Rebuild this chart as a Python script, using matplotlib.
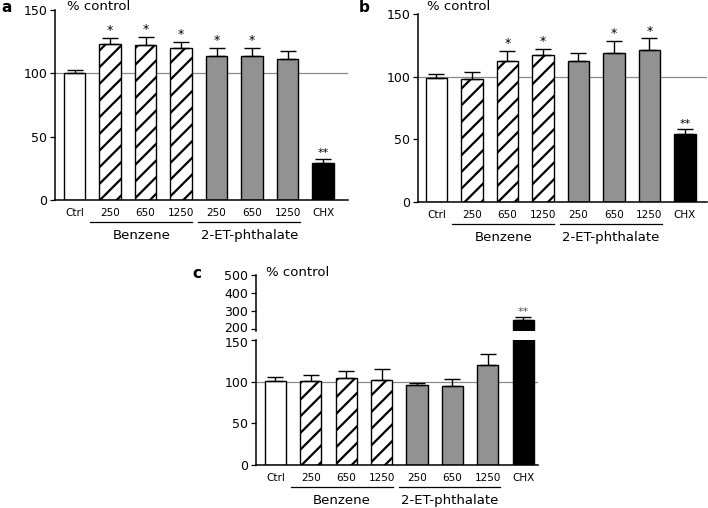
import numpy as np
import matplotlib.pyplot as plt
from matplotlib import transforms

plt.rcParams['font.family'] = ['DejaVu Sans']
plt.rcParams['hatch.linewidth'] = 1.6

# data (% of control)
labels = ['Ctrl', '250', '650', '1250', '250', '650', '1250', 'CHX']
groups = ['Benzene', '2-ET-phthalate']

a_vals = [100, 123, 122, 120, 114, 114, 111, 29.5]
a_errs = [3, 5, 7, 5, 6, 6, 7, 3]
a_stars = ['', '*', '*', '*', '*', '*', '', '**']

b_vals = [99, 98, 112.5, 117, 112.5, 118.5, 121.5, 54]
b_errs = [3, 6, 8, 5, 6, 10, 9, 4]
b_stars = ['', '', '*', '*', '', '*', '*', '**']

c_vals = [100.5, 100.5, 104, 102, 96, 94.5, 119.5, 248]
c_errs = [5, 8, 9, 13, 3, 9, 14, 17]
c_stars = ['', '', '', '', '', '', '', '**']

# bar styles
fills = ['white', 'white', 'white', 'white', '#929292', '#929292', '#929292', 'black']
hatches = ['', '//', '//', '//', '', '', '', '']

W, H = 708, 508
fig = plt.figure(figsize=(W / 100, H / 100), dpi=100)


def px_axes(l, t, r, b):
    return fig.add_axes([l / W, 1 - b / H, (r - l) / W, (b - t) / H])


def draw_bars(ax, vals, errs, stars, star_color='black'):
    x = np.arange(len(vals))
    for i in x:
        ax.bar(i, vals[i], width=0.6, color=fills[i], hatch=hatches[i],
               edgecolor='black', linewidth=1.0, zorder=2)
    ax.errorbar(x, vals, yerr=[np.zeros(len(errs)), errs], fmt='none',
                ecolor='black', elinewidth=1.0, capsize=5.5, capthick=1.0, zorder=3)
    ax.axhline(100, color='#8a8a8a', lw=0.9, zorder=1)
    for i in x:
        if stars[i]:
            ax.annotate(stars[i], (i, vals[i] + errs[i]), xytext=(0, 0.5),
                        textcoords='offset points', ha='center', va='bottom',
                        fontsize=9 if stars[i] == '*' else 8, color=star_color)


def style_axes(ax, ylim, yticks, xlim, fs, xlabels=True):
    ax.set_ylim(*ylim)
    ax.set_xlim(*xlim)
    ax.set_yticks(yticks)
    ax.spines['top'].set_visible(False)
    ax.spines['right'].set_visible(False)
    for s in ax.spines.values():
        s.set_linewidth(1.1)
    ax.tick_params(axis='y', direction='out', length=3.5, width=0.9, pad=2.0, labelsize=fs)
    if xlabels:
        ax.set_xticks(np.arange(len(labels)))
        ax.set_xticklabels(labels, fontsize=7.5)
        ax.tick_params(axis='x', length=0, pad=6)
        base = transforms.blended_transform_factory(ax.transData, ax.transAxes)
        line_tr = transforms.offset_copy(base, fig=fig, y=-15.8, units='points')
        text_tr = transforms.offset_copy(base, fig=fig, y=-25.8, units='points')
        for (x0, x1), name in zip([(0.44, 3.32), (3.49, 6.35)], groups):
            ax.plot([x0, x1], [0, 0], color='black', lw=0.9, transform=line_tr, clip_on=False)
            ax.text((x0 + x1) / 2, 0, name, transform=text_tr, ha='center', va='center',
                    fontsize=9.5)
    else:
        ax.spines['bottom'].set_visible(False)
        ax.set_xticks([])


def nudge(label, dy_px):
    label.set_transform(label.get_transform() +
                        transforms.ScaledTranslation(0, dy_px / 100, fig.dpi_scale_trans))


# panel a
ax_a = px_axes(55, 10, 348, 200)
draw_bars(ax_a, a_vals, a_errs, a_stars)
style_axes(ax_a, (0, 150), [0, 50, 100, 150], (-0.55, 7.7), 9)

# panel b
ax_b = px_axes(418, 14, 707, 202)
draw_bars(ax_b, b_vals, b_errs, b_stars)
style_axes(ax_b, (0, 150), [0, 50, 100, 150], (-0.52, 7.62), 9)

# panel c, broken y axis
ax_c = px_axes(256, 340, 538, 465)
draw_bars(ax_c, c_vals, c_errs, c_stars)
style_axes(ax_c, (0, 150), [0, 50, 100, 150], (-0.55, 7.42), 9)

ax_cu = px_axes(256, 275, 538, 331)
draw_bars(ax_cu, c_vals, c_errs, c_stars, star_color='#555555')
style_axes(ax_cu, (189, 500), [200, 300, 400, 500], (-0.55, 7.42), 9, xlabels=False)

# keep the 200 / 150 labels at the axis break apart
nudge(ax_cu.get_yticklabels()[0], 2)
nudge(ax_c.get_yticklabels()[-1], -2)

# panel letters and axis titles
for x, y, letter in [(1, 7, 'a'), (359, 8, 'b'), (192, 274, 'c')]:
    fig.text(x / W, 1 - y / H, letter, ha='left', va='center', fontsize=11, fontweight='bold')
for x, y in [(67, 7), (427, 7), (266, 273)]:
    fig.text(x / W, 1 - y / H, '% control', ha='left', va='center', fontsize=9.5)

fig.savefig('out.png', dpi=100)
